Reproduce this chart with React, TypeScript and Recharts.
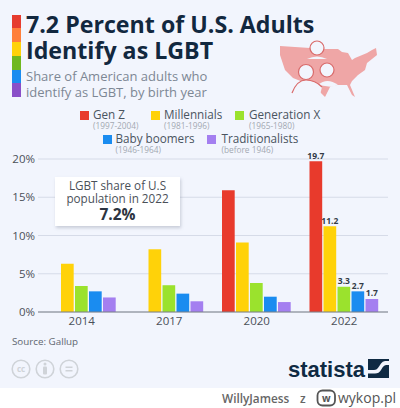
import React from 'react';
import { BarChart, Bar, XAxis, YAxis, CartesianGrid, LabelList } from 'recharts';

const years = ['2014', '2017', '2020', '2022'];
const genZ = [null, null, 15.9, 19.7];
const millennials = [6.3, 8.2, 9.1, 11.2];
const genX = [3.4, 3.5, 3.8, 3.3];
const boomers = [2.7, 2.4, 2.0, 2.7];
const traditionalists = [1.9, 1.4, 1.3, 1.7];
const yTicks = [0, 5, 10, 15, 20];

const lastIndex = years.length - 1;
const data = years.map((year, i) => ({
  year,
  genZ: genZ[i],
  millennials: millennials[i],
  genX: genX[i],
  boomers: boomers[i],
  traditionalists: traditionalists[i],
  // only the last group carries value labels
  genZLabel: i === lastIndex ? genZ[i] : null,
  millennialsLabel: i === lastIndex ? millennials[i] : null,
  genXLabel: i === lastIndex ? genX[i] : null,
  boomersLabel: i === lastIndex ? boomers[i] : null,
  traditionalistsLabel: i === lastIndex ? traditionalists[i] : null,
}));

const series = [
  { key: 'genZ', color: '#e83a2c' },
  { key: 'millennials', color: '#ffd209' },
  { key: 'genX', color: '#9be22d' },
  { key: 'boomers', color: '#1a8cf0' },
  { key: 'traditionalists', color: '#a47ff0' },
];

const legendItems = [
  { name: 'Gen Z', years: '(1997-2004)', color: '#e83a2c', x: 80, y: 110, dx: 13 },
  { name: 'Millennials', years: '(1981-1996)', color: '#ffd209', x: 151, y: 110, dx: 13 },
  { name: 'Generation X', years: '(1965-1980)', color: '#9be22d', x: 235, y: 110, dx: 14 },
  { name: 'Baby boomers', years: '(1946-1964)', color: '#1a8cf0', x: 102.5, y: 134, dx: 13 },
  { name: 'Traditionalists', years: '(before 1946)', color: '#a47ff0', x: 207, y: 134, dx: 14.5 },
];

const rainbow = ['#e63c2f', '#ff7f3a', '#ffd209', '#6fb81f', '#1a8cf0', '#8a4fc8'];

const font = '"Open Sans", sans-serif';
const bg = '#f2f5fd';

const renderLabel = (props: any) => {
  const { x, y, width, value } = props;
  if (value === null || value === undefined) return null;
  return (
    <text x={x + width / 2} y={y - 2.5} textAnchor="middle" fontSize={8.5} fontWeight={700} fill="#333c48" fontFamily={font}>
      {value}
    </text>
  );
};

const MapIcon = () => (
  <svg width={120} height={70} style={{ position: 'absolute', left: 270, top: 35 }}>
    <path
      d="M10 11 L55 14 L68 14 L72 17 L78 18 L82 25 L85 23 L97 18 L102 15 L106 13 L107 20 L97 28 L95 35 L88 40 L82 46 L80 50 L85 62 L82 60 L77 50 L67 50 L60 52 L55 62 L50 57 L45 50 L33 47 L23 43 L15 35 L10 20 Z"
      fill="#efa6a6"
    />
    <circle cx={47} cy={13} r={7} fill={bg} stroke="#d96a6a" strokeWidth={1.2} />
    <path d="M37 24 Q47 19 57 24 Z" fill={bg} />
    <path d="M48 50 Q57 42 68 50 L62 52 Z" fill={bg} />
    <path d="M22 58 Q27 45 36 45 Q45 45 52 52 L50 60 L22 60 Z" fill={bg} />
    <path d="M22 58 Q27 45 36 45 Q45 45 52 52" fill="none" stroke="#d96a6a" strokeWidth={1.2} />
    <circle cx={36} cy={37} r={7.5} fill={bg} stroke="#d96a6a" strokeWidth={1.2} />
    <circle cx={57} cy={35} r={7} fill={bg} stroke="#d96a6a" strokeWidth={1.2} />
  </svg>
);

const CcIcons = () => (
  <svg width={80} height={24} style={{ position: 'absolute', left: 9, top: 357 }}>
    {[12, 36, 60].map((cx) => (
      <circle key={cx} cx={cx} cy={12} r={8.8} fill="none" stroke="#cfd3d8" strokeWidth={1.6} />
    ))}
    <text x={12} y={15} textAnchor="middle" fontSize={8} fontWeight={700} fill="#cfd3d8" fontFamily={font}>cc</text>
    <circle cx={36} cy={7} r={1.5} fill="#cfd3d8" />
    <rect x={34} y={9.5} width={4} height={8} rx={1} fill="#cfd3d8" />
    <rect x={56.5} y={9.5} width={7} height={1.5} fill="#cfd3d8" />
    <rect x={56.5} y={13} width={7} height={1.5} fill="#cfd3d8" />
  </svg>
);

const StatistaLogo = () => (
  <svg width={21} height={20} style={{ position: 'absolute', left: 368, top: 359 }}>
    <rect width={21} height={19} fill="#0f2a43" />
    <path d="M0 11 L6 11 Q9 11 11 7.5 L13 4.5 Q14.5 2 17 2 L21 2 L21 6 L18 6 Q16 6 14.5 8.5 L13 11 Q11 14.5 7 14.5 L0 14.5 Z" fill={bg} />
  </svg>
);

const App = () => (
  <div style={{ position: 'relative', width: 400, height: 408, background: '#fff', overflow: 'hidden', fontFamily: font }}>
    <style>{'body{margin:0}'}</style>
    <div style={{ position: 'absolute', left: 0, top: 0, width: 400, height: 388, background: bg }} />

    {/* rainbow strip next to the title */}
    <div style={{ position: 'absolute', left: 11.5, top: 14.5, width: 9.5, height: 82.5, display: 'flex', flexDirection: 'column' }}>
      {rainbow.map((c) => <div key={c} style={{ flex: 1, background: c }} />)}
    </div>

    <div style={{ position: 'absolute', left: 26, top: 11, fontSize: 23.2, lineHeight: '26px', fontWeight: 700, color: '#12283f', whiteSpace: 'nowrap' }}>
      7.2 Percent of U.S. Adults<br />Identify as LGBT
    </div>
    <div style={{ position: 'absolute', left: 26, top: 68, fontSize: 13, lineHeight: '16px', color: '#7d8794', whiteSpace: 'nowrap' }}>
      Share of American adults who<br />identify as LGBT, by birth year
    </div>

    <MapIcon />

    {legendItems.map((item) => (
      <div key={item.name} style={{ position: 'absolute', left: item.x, top: item.y, whiteSpace: 'nowrap' }}>
        <div style={{ position: 'absolute', left: 0, top: 1, width: 9, height: 9, background: item.color }} />
        <div style={{ position: 'absolute', left: item.dx, top: -3, fontSize: 11.7, lineHeight: '15px', color: '#4a5460' }}>{item.name}</div>
        <div style={{ position: 'absolute', left: item.dx, top: 11, fontSize: 8.3, lineHeight: '10px', color: '#a3a9b2' }}>{item.years}</div>
      </div>
    ))}

    <div style={{ position: 'absolute', left: 0, top: 0 }}>
      <BarChart
        width={400}
        height={408}
        data={data}
        margin={{ top: 159, right: 12, bottom: 66, left: 0 }}
        barSize={12.7}
        barGap={1.3}
      >
        <CartesianGrid horizontal vertical={false} stroke="#d6dbe8" strokeWidth={1} />
        <XAxis
          dataKey="year"
          height={30}
          axisLine={{ stroke: '#7b8088', strokeWidth: 1 }}
          tickLine={false}
          tickSize={0}
          tickMargin={5}
          tick={{ fontSize: 11.5, fill: '#4a5058', fontFamily: font }}
        />
        <YAxis
          width={38}
          domain={[0, 20]}
          ticks={yTicks}
          tickFormatter={(v) => `${v}%`}
          axisLine={false}
          tickLine={false}
          tickSize={0}
          tickMargin={3}
          tick={{ fontSize: 11.5, fill: '#4a5058', fontFamily: font }}
        />
        {series.map((s) => (
          <Bar key={s.key} dataKey={s.key} fill={s.color} isAnimationActive={false}>
            <LabelList dataKey={`${s.key}Label`} content={renderLabel} />
          </Bar>
        ))}
      </BarChart>
    </div>

    {/* callout box */}
    <div style={{ position: 'absolute', left: 55, top: 177, width: 125, height: 49, background: '#fff', boxShadow: '1px 2px 3px rgba(120,130,150,0.35)', textAlign: 'center', color: '#4a5058', fontSize: 11.7, lineHeight: '13px', paddingTop: 2, boxSizing: 'border-box', whiteSpace: 'nowrap' }}>
      LGBT share of U.S<br />population in 2022
      <div style={{ fontSize: 15.5, fontWeight: 700, color: '#2c3440', lineHeight: '18px' }}>7.2%</div>
    </div>

    <div style={{ position: 'absolute', left: 12, top: 336, fontSize: 9.8, lineHeight: '12px', color: '#5f6670', whiteSpace: 'nowrap' }}>Source: Gallup</div>
    <CcIcons />

    <div style={{ position: 'absolute', left: 288, top: 355, fontFamily: '"Liberation Sans", sans-serif', fontSize: 22, lineHeight: '30px', fontWeight: 700, color: '#0f2a43', whiteSpace: 'nowrap' }}>statista</div>
    <StatistaLogo />

    <div style={{ position: 'absolute', left: 222, top: 388, height: 20, fontSize: 11.8, lineHeight: '20px', fontWeight: 600, color: '#666', whiteSpace: 'nowrap' }}>WillyJamess</div>
    <div style={{ position: 'absolute', left: 300, top: 388, height: 20, fontSize: 11.8, lineHeight: '20px', fontWeight: 600, color: '#666' }}>z</div>
    <svg width={21} height={18} style={{ position: 'absolute', left: 316, top: 389 }}>
      <rect x={1.5} y={1.5} width={17.5} height={15} rx={5} fill="none" stroke="#555" strokeWidth={1.8} />
      <text x={10.2} y={12.5} textAnchor="middle" fontSize={10} fontWeight={700} fill="#555" fontFamily={font}>w</text>
    </svg>
    <div style={{ position: 'absolute', left: 338, top: 388, height: 20, fontSize: 14, lineHeight: '20px', color: '#555', whiteSpace: 'nowrap' }}>wykop.pl</div>
  </div>
);

export default App;
